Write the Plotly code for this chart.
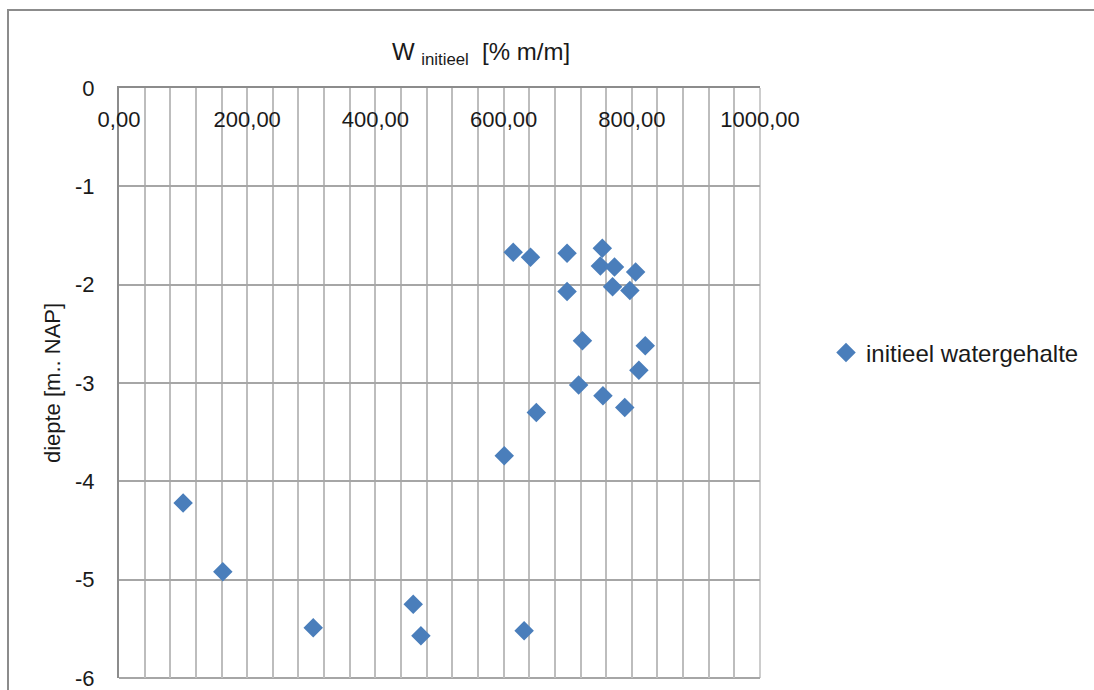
import plotly.graph_objects as go

# data
w_initieel = [100, 162, 303, 459, 471, 632, 601, 651,
              615, 642, 699, 699, 754, 751, 773, 806,
              770, 797, 723, 821, 811, 717, 755, 789]
diepte = [-4.22, -4.92, -5.49, -5.25, -5.57, -5.52, -3.74, -3.30,
          -1.67, -1.72, -1.68, -2.07, -1.63, -1.81, -1.82, -1.87,
          -2.02, -2.06, -2.57, -2.62, -2.87, -3.02, -3.13, -3.25]
series_name = "initieel watergehalte"

x_tickvals = [0, 200, 400, 600, 800, 1000]
x_ticktext = ["0,00", "200,00", "400,00", "600,00", "800,00", "1000,00"]
y_tickvals = [0, -1, -2, -3, -4, -5, -6]
y_ticktext = ["0", "-1", "-2", "-3", "-4", "-5", "-6"]

FONT = "Liberation Sans"
TXT = "#1a1a1a"
VGRID = "#BDBDBD"
HGRID = "#A6A6A6"

fig = go.Figure()
fig.add_trace(go.Scatter(
    x=w_initieel, y=diepte, mode="markers", name=series_name,
    marker=dict(symbol="diamond", size=15, color="#4A7EBB",
                line=dict(width=0)),
))

fig.update_layout(
    width=1094, height=690,
    margin=dict(l=119, r=334, t=88, b=12, autoexpand=False),
    paper_bgcolor="white", plot_bgcolor="white",
    font=dict(family=FONT, size=22, color=TXT),
    showlegend=True,
    legend=dict(x=1.103, y=0.551, xanchor="left", yanchor="middle",
                font=dict(size=24, color=TXT), bgcolor="rgba(0,0,0,0)"),
    title=dict(text="W <sub>initieel</sub>  [% m/m]", x=(481 - 119) / 641,
               xref="paper", xanchor="center", y=1 - 52 / 690,
               yref="container", yanchor="middle",
               font=dict(size=24, color=TXT, family=FONT)),
    xaxis=dict(
        side="top", range=[0, 1000], tickvals=x_tickvals, ticktext=x_ticktext,
        ticklabelposition="inside", ticklabeloverflow="allow",
        ticks="", ticklabelstandoff=25, automargin=False,
        showgrid=True, gridcolor=VGRID, gridwidth=1.5,
        minor=dict(dtick=40, tick0=0, showgrid=True, gridcolor=VGRID,
                   gridwidth=1.5),
        showline=True, linecolor="#8C8C8C", linewidth=2,
        zeroline=False, tickfont=dict(size=22, color=TXT),
    ),
    yaxis=dict(
        range=[-6, 0], tickvals=y_tickvals, ticktext=y_ticktext,
        ticklabeloverflow="allow", automargin=False,
        ticks="", ticklabelstandoff=18,
        showgrid=True, gridcolor=HGRID, gridwidth=2,
        showline=True, linecolor="#8C8C8C", linewidth=2,
        zeroline=False, tickfont=dict(size=22, color=TXT),
        title=dict(text="diepte [m.. NAP]", standoff=8,
                   font=dict(size=22, color=TXT)),
    ),
)

# plot-area edges at x=1000 and y=-6 (gridline-coloured)
fig.add_shape(type="line", xref="paper", yref="paper", x0=1, x1=1, y0=0, y1=1,
              line=dict(color=VGRID, width=1.5), layer="below")
fig.add_shape(type="line", xref="paper", yref="paper", x0=0, x1=1, y0=0, y1=0,
              line=dict(color=HGRID, width=2), layer="below")

# outer chart border
fig.add_shape(type="rect", xref="paper", yref="paper",
              x0=(8 - 119) / 641, x1=2.0,
              y0=-0.2, y1=(678 - 10) / 590,
              line=dict(color="#8C8C8C", width=2), fillcolor="rgba(0,0,0,0)",
              layer="below")

fig.write_html("out.html")
